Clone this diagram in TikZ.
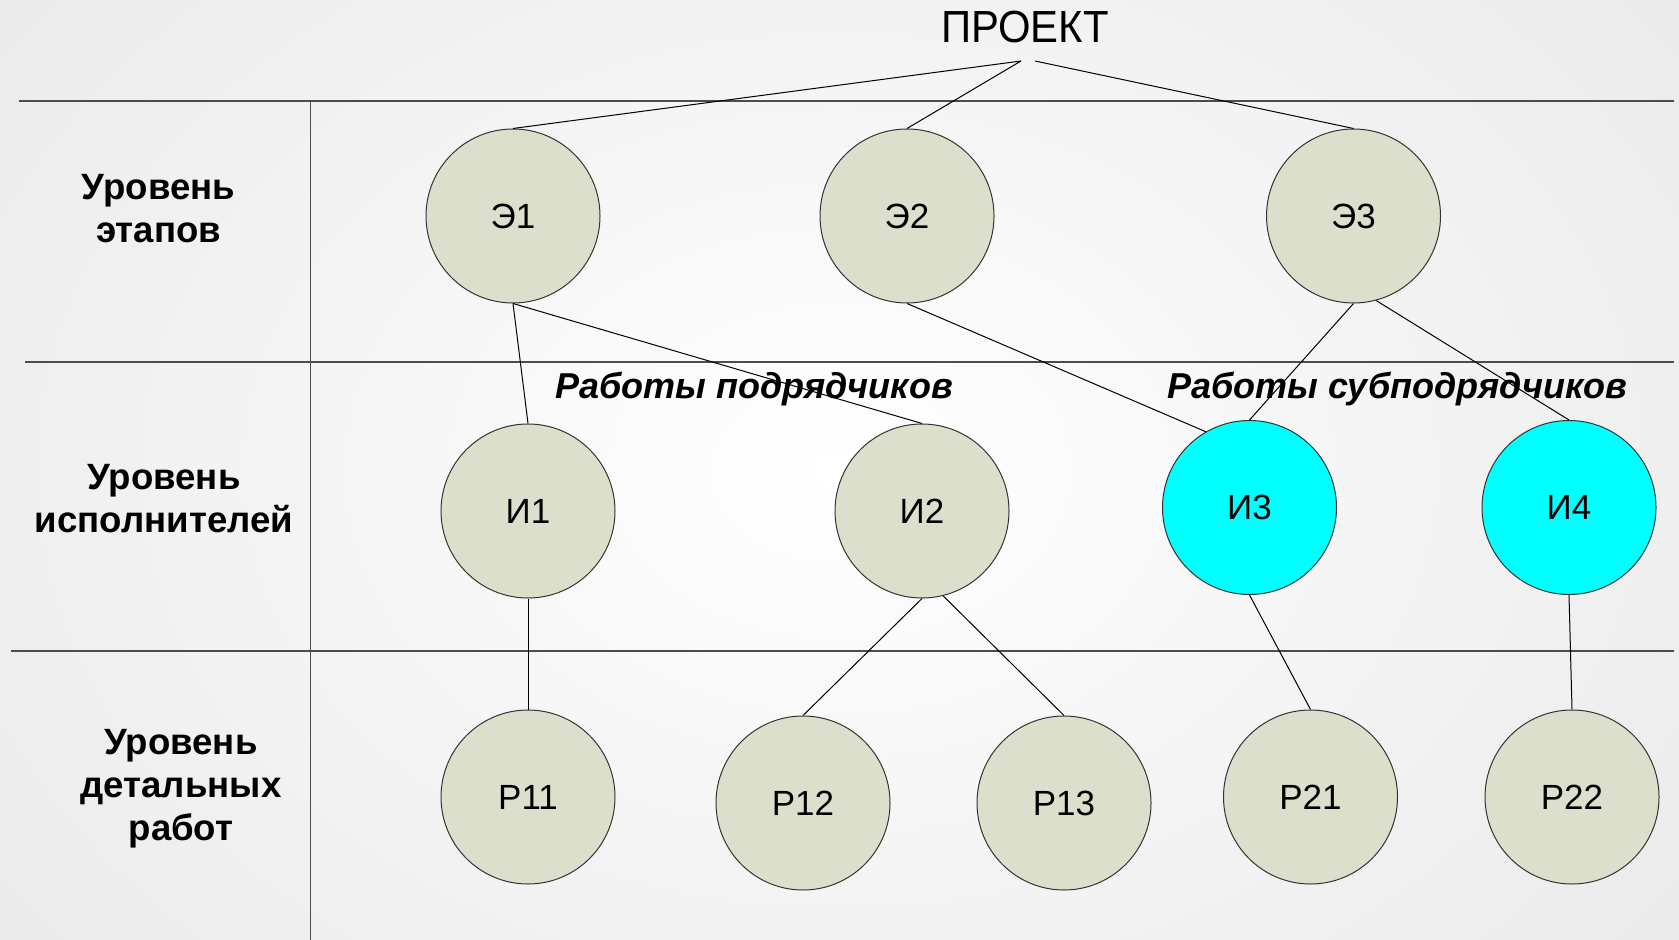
\documentclass[tikz,border=0pt]{standalone}
\usepackage{fontspec}
\setmainfont{Liberation Sans}
\definecolor{stagefill}{RGB}{221,223,205}
\definecolor{subfill}{RGB}{0,255,255}
\begin{document}
\begin{tikzpicture}[x=0.5pt,y=-0.5pt]
\tikzstyle{vertex}=[circle,draw=black!80,line width=0.5pt,minimum size=87pt,inner sep=0pt,font=\fontsize{17.5}{20}\selectfont]
\tikzstyle{level}=[align=center,font=\bfseries\fontsize{18.3}{21.5}\selectfont]
\tikzstyle{works}=[font=\bfseries\itshape\fontsize{18}{21}\selectfont]
\tikzstyle{grid}=[line width=0.9pt,black!70]
\tikzstyle{edge}=[line width=0.5pt]
\useasboundingbox (0,0) rectangle (1679,940);
\shade[inner color=white,outer color=black!9] (-350,-400) rectangle (2029,1340);
% level borders
\draw[grid] (19,101) -- (1674,101);
\draw[grid] (25,362) -- (1674,362);
\draw[grid] (11,651) -- (1674,651);
\draw[grid] (310.5,101) -- (310.5,940);
\node (proj) at (1025,27) {\scalebox{0.93}[1]{\fontsize{22.5}{27}\selectfont ПРОЕКТ}};
\coordinate (apexL) at (1021,61);
\coordinate (apexR) at (1035,61);
\foreach \name/\point/\txt/\col in {
	E1/{513,216}/Э1/stagefill,
	E2/{907,216}/Э2/stagefill,
	E3/{1353.5,216}/Э3/stagefill,
	I1/{528,511}/И1/stagefill,
	I2/{922,511}/И2/stagefill,
	I3/{1249.5,507.5}/И3/subfill,
	I4/{1569,507.5}/И4/subfill,
	R11/{528,797}/Р11/stagefill,
	R12/{803,803}/Р12/stagefill,
	R13/{1064,803}/Р13/stagefill,
	R21/{1310.5,797}/Р21/stagefill,
	R22/{1572,797}/Р22/stagefill}
	\node[vertex,fill=\col] (\name) at (\point) {\txt};
\draw[edge] (apexL) -- (E1.north);
\draw[edge] (apexL) -- (E2.north);
\draw[edge] (apexR) -- (E3.north);
\draw[edge] (E1.south) -- (I1.north);
\draw[edge] (E1.south) -- (I2.north);
\draw[edge] (E2.south) -- (I3.120);
\draw[edge] (E3.south) -- (I3.north);
\draw[edge] (E3.-75) -- (I4.north);
\draw[edge] (I1.south) -- (R11.north);
\draw[edge] (I2.south) -- (R12.north);
\draw[edge] (I2.-76) -- (R13.north);
\draw[edge] (I3.south) -- (R21.north);
\draw[edge] (I4.south) -- (R22.north);
% captions
\node[works] (contr) at (754,389) {Работы подрядчиков};
\node[works] (subcontr) at (1397,389) {Работы субподрядчиков};
\node[level] (lev1) at (158.5,209) {Уровень\\этапов};
\node[level] (lev2) at (164,499) {Уровень\\исполнителей};
\node[level] (lev3) at (181,789) {Уровень\\детальных\\работ};
\end{tikzpicture}
\end{document}
